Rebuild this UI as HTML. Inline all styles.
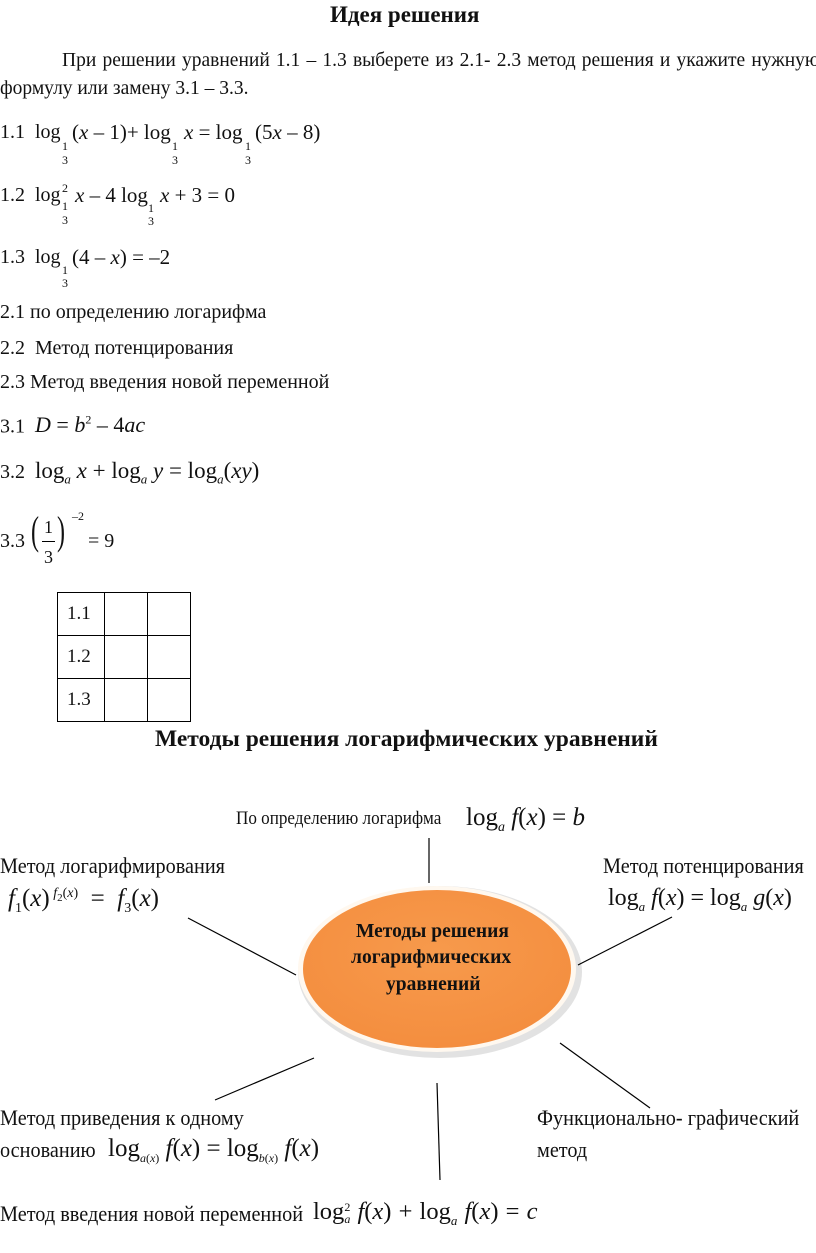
<!DOCTYPE html>
<html><head><meta charset="utf-8"><style>
body{margin:0;width:816px;height:1253px;background:#fff;position:relative;font-family:"Liberation Serif",serif;color:#111;overflow:hidden}
.t{position:absolute;white-space:nowrap;line-height:1;font-size:20px}
i{font-style:italic}
.s{font-size:12px}
.c{transform:scaleX(.9);transform-origin:0 0}
.b{font-weight:bold}
table{position:absolute;left:57px;top:592px;border-collapse:collapse}
td{border:1px solid #000;height:42px;padding:0 0 0 9px;font-size:19px;vertical-align:middle}
</style></head><body>
<div class="t b" style="left:330px;top:3px;font-size:23px">Идея решения</div>
<div class="t" style="left:62px;top:51px;font-size:19.5px;word-spacing:1.3px">При решении уравнений 1.1 – 1.3 выберете из 2.1- 2.3 метод решения и укажите нужную</div>
<div class="t" style="left:0;top:79px;font-size:19.5px">формулу или замену 3.1 – 3.3.</div>

<div class="t" style="left:0;top:122px">1.1&nbsp; log</div>
<div class="t s" style="left:62px;top:140px">1</div><div class="t s" style="left:62px;top:154px">3</div>
<div class="t" style="left:72px;top:122px;font-size:21px">(<i>x</i> – 1)+ log</div>
<div class="t s" style="left:172px;top:140px">1</div><div class="t s" style="left:172px;top:154px">3</div>
<div class="t" style="left:184px;top:122px;font-size:21px"><i>x</i> = log</div>
<div class="t s" style="left:245px;top:140px">1</div><div class="t s" style="left:245px;top:154px">3</div>
<div class="t" style="left:255px;top:122px;font-size:21px">(5<i>x</i> – 8)</div>

<div class="t" style="left:0;top:185px">1.2&nbsp; log</div>
<div class="t s" style="left:62px;top:182px">2</div><div class="t s" style="left:62px;top:200px">1</div><div class="t s" style="left:62px;top:214px">3</div>
<div class="t" style="left:75px;top:185px;font-size:21px"><i>x</i> – 4 log</div>
<div class="t s" style="left:148px;top:202px">1</div><div class="t s" style="left:148px;top:215px">3</div>
<div class="t" style="left:160px;top:185px;font-size:21px"><i>x</i> + 3 = 0</div>

<div class="t" style="left:0;top:247px">1.3&nbsp; log</div>
<div class="t s" style="left:62px;top:264px">1</div><div class="t s" style="left:62px;top:277px">3</div>
<div class="t" style="left:72px;top:247px;font-size:21px">(4 – <i>x</i>) = –2</div>

<div class="t" style="left:0;top:302px">2.1 по определению логарифма</div>
<div class="t" style="left:0;top:338px">2.2&nbsp; Метод потенцирования</div>
<div class="t" style="left:0;top:372px">2.3 Метод введения новой переменной</div>

<div class="t" style="left:0;top:414px">3.1&nbsp; <span style="font-size:22px"><i>D</i> = <i>b</i><sup style="font-size:12px">2</sup> – 4<i>ac</i></span></div>
<div class="t" style="left:0;top:459px">3.2&nbsp; <span style="font-size:23px">log<sub style="font-size:13px"><i>a</i></sub> <i>x</i> + log<sub style="font-size:13px"><i>a</i></sub> <i>y</i> = log<sub style="font-size:13px"><i>a</i></sub>(<i>xy</i>)</span></div>
<div class="t" style="left:0;top:531px">3.3</div>
<div class="t" style="left:31px;top:511px;font-size:40px;transform:scaleX(.6);transform-origin:0 0">(</div>
<div class="t" style="left:44px;top:518px;font-size:18px">1</div>
<div style="position:absolute;left:42px;top:541px;width:13px;border-top:1px solid #000"></div>
<div class="t" style="left:44px;top:548px;font-size:18px">3</div>
<div class="t" style="left:57px;top:511px;font-size:40px;transform:scaleX(.6);transform-origin:0 0">)</div>
<div class="t" style="left:72px;top:510px;font-size:12px">–2</div>
<div class="t" style="left:88px;top:531px">= 9</div>

<table><tr><td style="width:37px">1.1</td><td style="width:42px;padding:0"></td><td style="width:42px;padding:0"></td></tr>
<tr><td>1.2</td><td style="padding:0"></td><td style="padding:0"></td></tr>
<tr><td>1.3</td><td style="padding:0"></td><td style="padding:0"></td></tr></table>

<div class="t b" style="left:155px;top:728px;font-size:23.5px">Методы решения логарифмических уравнений</div>

<svg style="position:absolute;left:0;top:0" width="816" height="1253">
<defs><radialGradient id="g" cx="50%" cy="40%" r="60%"><stop offset="0" stop-color="#f79a4c"/><stop offset="1" stop-color="#f48e3f"/></radialGradient></defs>
<ellipse cx="440" cy="972" rx="142" ry="86" fill="#e2e2e2"/>
<ellipse cx="437" cy="969" rx="139" ry="83" fill="#fff8ef"/>
<ellipse cx="437" cy="969" rx="134" ry="79" fill="url(#g)"/>
<g stroke="#000" stroke-width="1.2">
<line x1="429" y1="838" x2="429" y2="883"/>
<line x1="188" y1="918" x2="296" y2="975"/>
<line x1="578" y1="965" x2="672" y2="917"/>
<line x1="215" y1="1100" x2="314" y2="1058"/>
<line x1="437" y1="1083" x2="440" y2="1180"/>
<line x1="560" y1="1043" x2="650" y2="1108"/>
</g></svg>
<div class="t b" style="left:356px;top:922px;font-size:19.5px">Методы решения</div>
<div class="t b" style="left:351px;top:948px;font-size:19.5px">логарифмических</div>
<div class="t b" style="left:386px;top:975px;font-size:19.5px">уравнений</div>

<div class="t c" style="left:236px;top:809px;font-size:19px">По определению логарифма</div>
<div class="t" style="left:466px;top:805px;font-size:25px">log<sub style="font-size:14px"><i>a</i></sub> <i>f</i>(<i>x</i>) = <i>b</i></div>

<div class="t c" style="left:0;top:855px;font-size:22.5px">Метод логарифмирования</div>
<div class="t" style="left:8px;top:886px;font-size:25px"><i>f</i><sub style="font-size:14px">1</sub>(<i>x</i>)<sup style="font-size:14px">&nbsp;<i>f</i><sub style="font-size:11px">2</sub>(<i>x</i>)</sup>&nbsp;&nbsp;=&nbsp; <i>f</i><sub style="font-size:14px">3</sub>(<i>x</i>)</div>

<div class="t c" style="left:603px;top:855px;font-size:22.5px">Метод потенцирования</div>
<div class="t" style="left:608px;top:886px;font-size:24px">log<sub style="font-size:13px"><i>a</i></sub> <i>f</i>(<i>x</i>) = log<sub style="font-size:13px"><i>a</i></sub> <i>g</i>(<i>x</i>)</div>

<div class="t c" style="left:0;top:1107px;font-size:22.5px">Метод приведения к одному</div>
<div class="t c" style="left:0;top:1139px;font-size:22.5px">основанию</div>
<div class="t" style="left:108px;top:1136px;font-size:25px">log<sub style="font-size:12px"><i>a</i>(<i>x</i>)</sub> <i>f</i>(<i>x</i>) = log<sub style="font-size:12px"><i>b</i>(<i>x</i>)</sub> <i>f</i>(<i>x</i>)</div>

<div class="t c" style="left:537px;top:1107px;font-size:22.5px">Функционально- графический</div>
<div class="t c" style="left:537px;top:1139px;font-size:22.5px">метод</div>

<div class="t c" style="left:0;top:1203px;font-size:22.5px">Метод введения новой переменной</div>
<div class="t" style="left:313px;top:1200px;font-size:24.5px;word-spacing:1px">log<span style="display:inline-block;vertical-align:middle;font-size:12px;line-height:1">2<br><i>a</i></span> <i>f</i>(<i>x</i>) + log<sub style="font-size:13px"><i>a</i></sub> <i>f</i>(<i>x</i>) = <i>c</i></div>
</body></html>
